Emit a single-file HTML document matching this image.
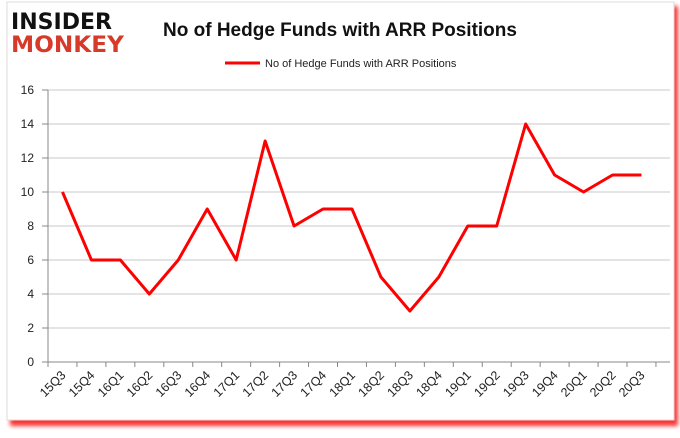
<!DOCTYPE html>
<html><head><meta charset="utf-8"><style>
body{margin:0;background:#fff;width:680px;height:433px;overflow:hidden;font-family:"Liberation Sans",sans-serif}
</style></head><body>
<svg width="680" height="433">
<defs><filter id="sh" x="-5%" y="-5%" width="110%" height="110%"><feGaussianBlur stdDeviation="2"/></filter></defs>
<rect x="10" y="6" width="668" height="420" fill="#f00" opacity="0.8" filter="url(#sh)"/>
<rect x="7" y="2" width="667" height="418" fill="#fff" stroke="#ddd"/>
<g font-weight="bold" font-family="'DejaVu Sans',sans-serif">
<text x="11" y="29" font-size="22" fill="#111" textLength="101" lengthAdjust="spacingAndGlyphs">INSIDER</text>
<text x="11" y="52" font-size="22" fill="#d83a2a" textLength="113" lengthAdjust="spacingAndGlyphs">MONKEY</text>
</g>
<text x="340" y="36" text-anchor="middle" font-size="19" font-weight="bold" fill="#111">No of Hedge Funds with ARR Positions</text>
<line x1="225" y1="63" x2="260" y2="63" stroke="#f00" stroke-width="3"/>
<text x="265" y="67" font-size="11" fill="#222">No of Hedge Funds with ARR Positions</text>
<g id="grid"></g><g id="axes"></g>
<polyline id="line" fill="none" stroke="#f00" stroke-width="3" stroke-linejoin="round"/>
</svg>
<script>
const categories=["15Q3","15Q4","16Q1","16Q2","16Q3","16Q4","17Q1","17Q2","17Q3","17Q4","18Q1","18Q2","18Q3","18Q4","19Q1","19Q2","19Q3","19Q4","20Q1","20Q2","20Q3"];
const values=[10,6,6,4,6,9,6,13,8,9,9,5,3,5,8,8,14,11,10,11,11];
const yTicks=[0,2,4,6,8,10,12,14,16];
const L=48,R=670,T=90,B=362,ymax=16;
const step=28.95;
const xs=i=>L+step*(i+0.5), ys=v=>B-(v/ymax)*(B-T);
const ns="http://www.w3.org/2000/svg";
const g=document.getElementById('grid'),a=document.getElementById('axes');
function mk(tag,attrs,parent){const e=document.createElementNS(ns,tag);for(const k in attrs)e.setAttribute(k,attrs[k]);parent.appendChild(e);return e;}
yTicks.forEach(t=>{const y=ys(t);
 const l=mk('line',{x1:L,x2:R,y1:y,y2:y,stroke:t===0?'#888':'#c8c8c8'},g);
 
 
 const tk=mk('line',{x1:L-6,x2:L,y1:y,y2:y,stroke:'#888'},a);
 
 
 const tx=mk('text',{x:L-14,y:y+4,'text-anchor':'end','font-size':'12',fill:'#222'},a);tx.textContent=t;
 
 
});
const ax=mk('line',{x1:L,x2:L,y1:T,y2:B,stroke:'#888'},a);


for(let i=0;i<=categories.length;i++){const x=L+step*i;
 const tk=mk('line',{x1:x,x2:x,y1:B,y2:B+5,stroke:'#888'},a);
 
 }
categories.forEach((c,i)=>{const x=xs(i)+4,y=B+14;
 const tx=mk('text',{x:x,y:y,'text-anchor':'end','font-size':'12.5',fill:'#222',transform:`rotate(-45 ${x} ${y})`},a);tx.textContent=c;
 
 });
document.getElementById('line').setAttribute('points',values.map((v,i)=>xs(i)+','+ys(v)).join(' '));
</script>
</body></html>
